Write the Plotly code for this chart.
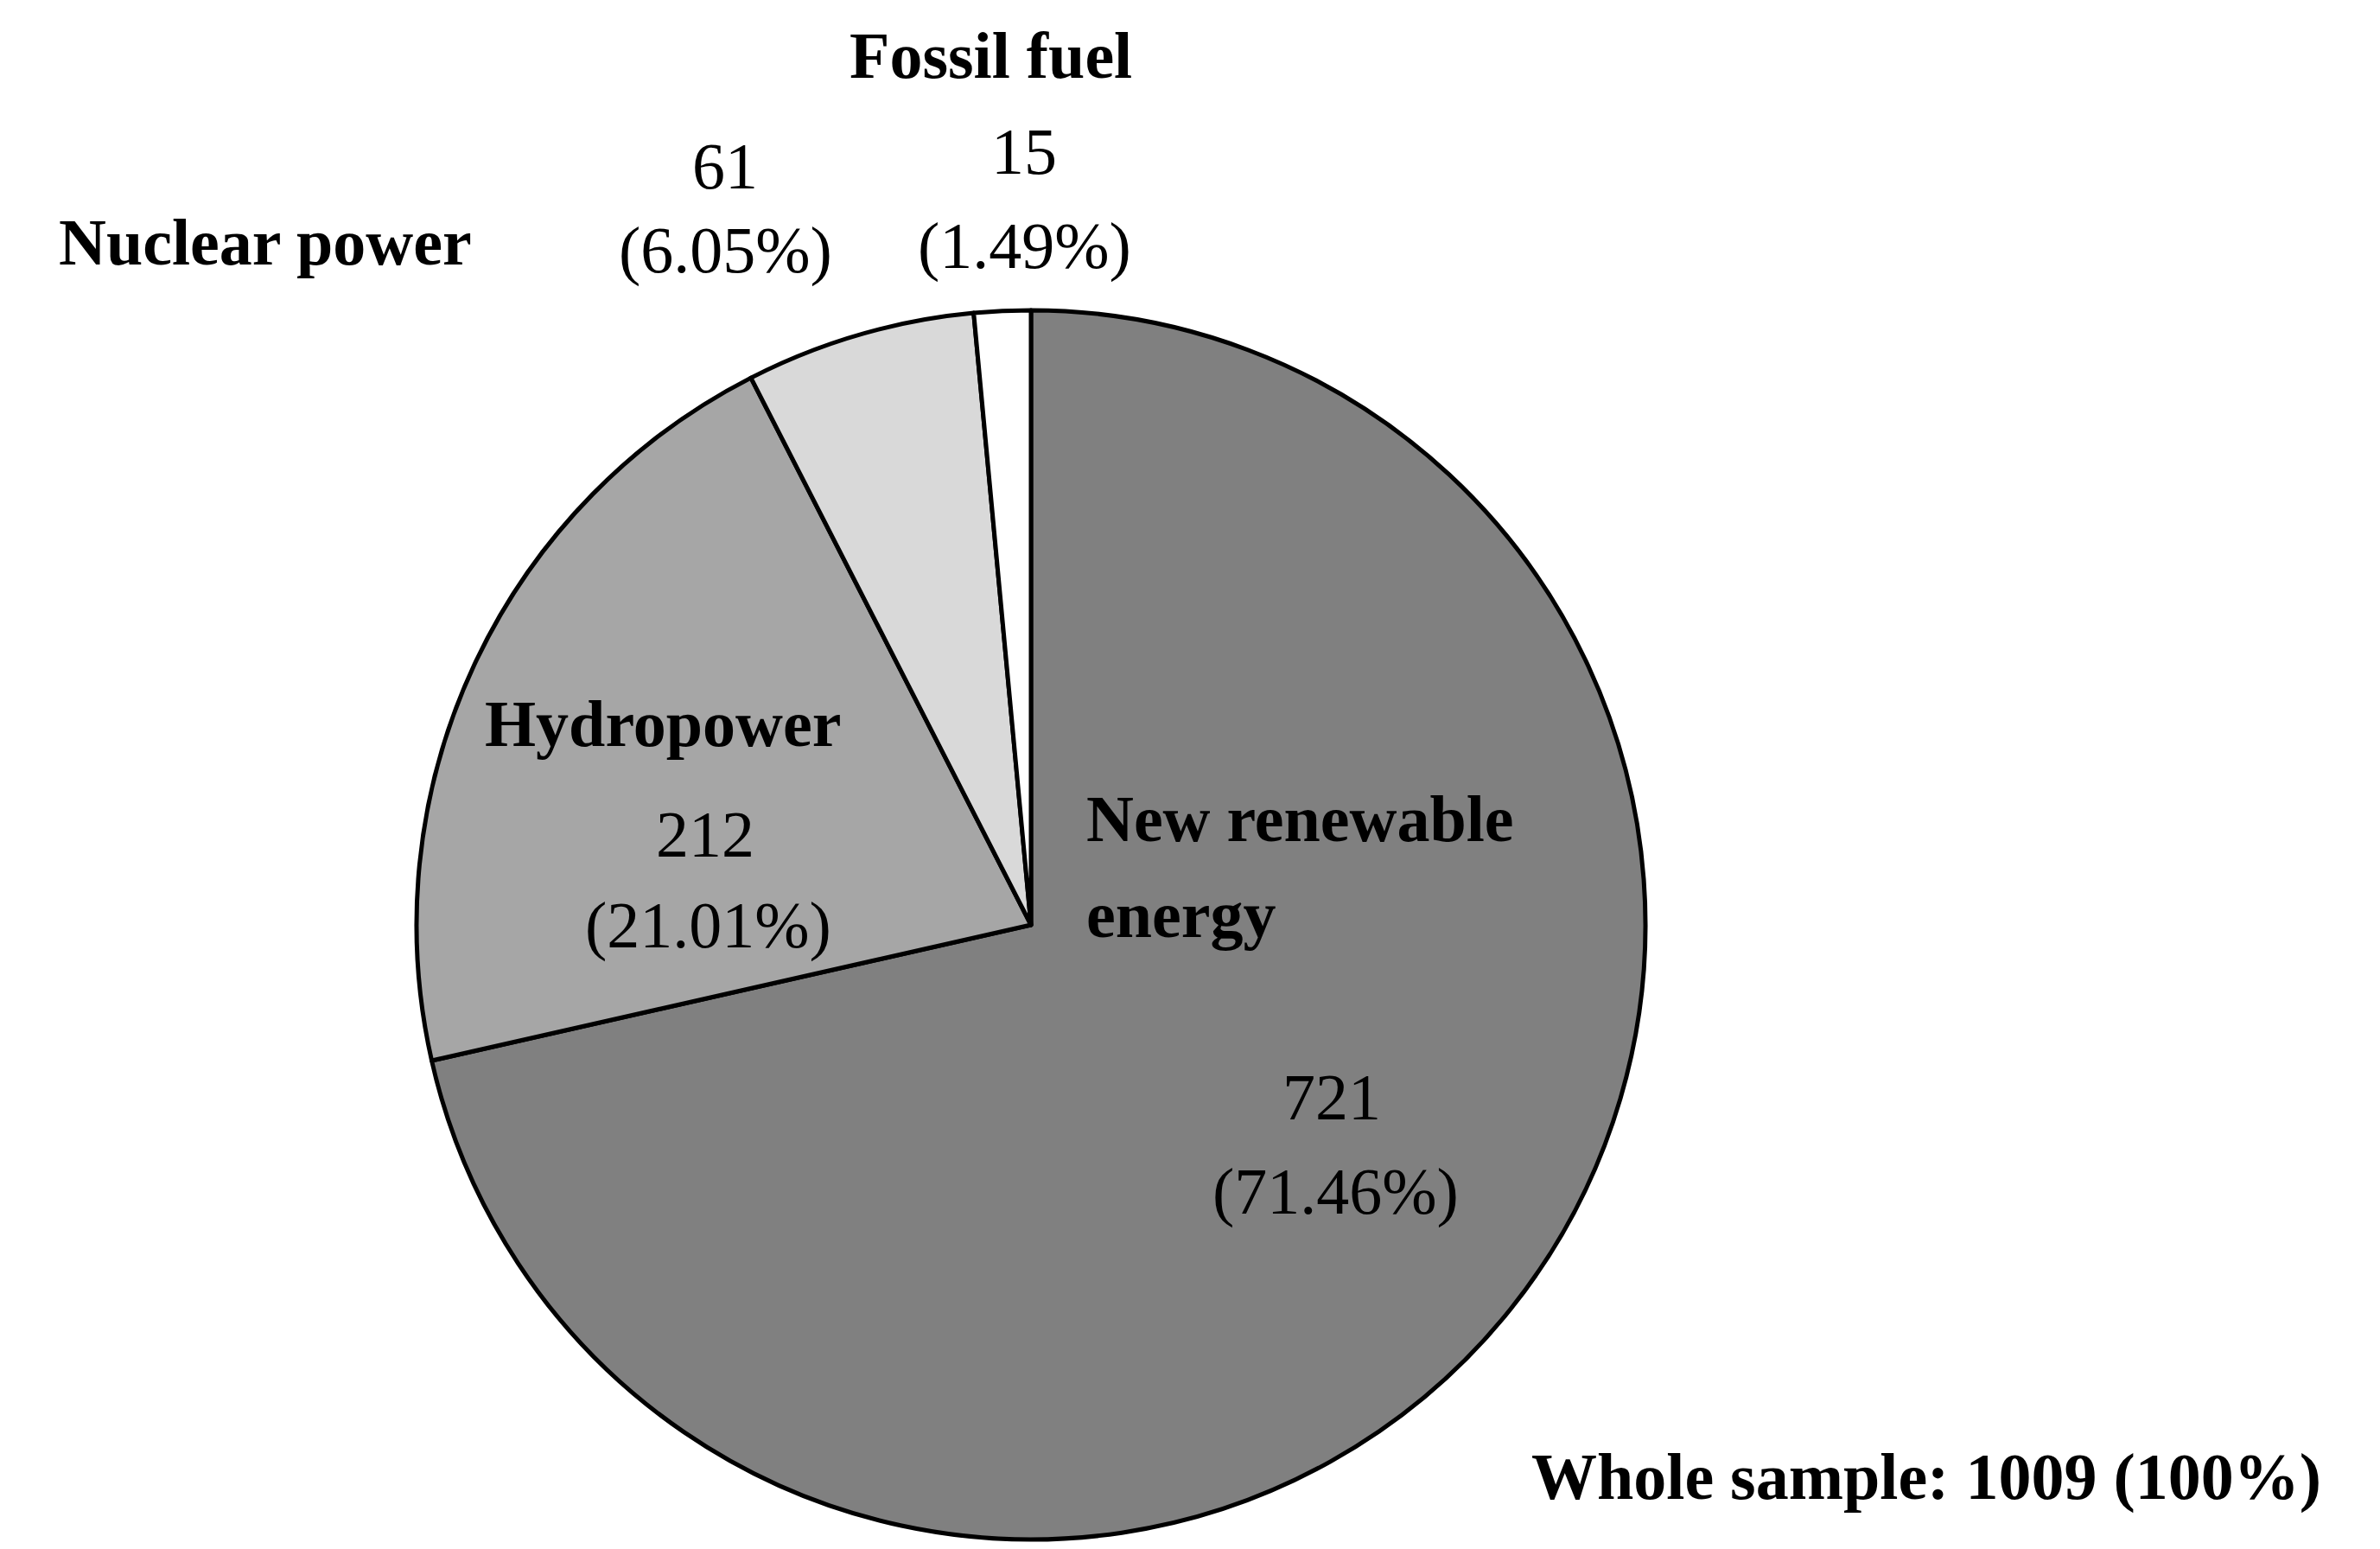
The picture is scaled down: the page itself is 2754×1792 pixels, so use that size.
import plotly.graph_objects as go

labels = ['New renewable energy', 'Hydropower', 'Nuclear power', 'Fossil fuel']
counts = [721, 212, 61, 15]
shares = [71.46, 21.01, 6.05, 1.49]
colors = ['#808080', '#a6a6a6', '#d9d9d9', '#ffffff']
total = 1009

W, H = 2754, 1792
font = 'Liberation Serif'
fs = 76

fig = go.Figure(go.Pie(
    labels=labels,
    values=counts,
    sort=False,
    direction='clockwise',
    rotation=0,
    marker=dict(colors=colors, line=dict(color='black', width=5)),
    textinfo='none',
    hoverinfo='label+value+percent',
    domain=dict(x=[1185 / W - 711 / W, 1185 / W + 711 / W],
                y=[1 - (1062 + 711) / H, 1 - (1062 - 711) / H]),
    showlegend=False,
))


def note(text, x, y, bold=False, xanchor='center'):
    if bold:
        text = '<b>' + text + '</b>'
    fig.add_annotation(text=text, x=x / W, y=1 - y / H, xref='paper', yref='paper',
                       showarrow=False, xanchor=xanchor, yanchor='middle',
                       font=dict(family=font, size=fs, color='black'))


num = [f'{c}' for c in counts]
pct = [f'({s:.2f}%)' for s in shares]

# New renewable energy
note('New renewable', 1247, 939, bold=True, xanchor='left')
note('energy', 1247, 1050, bold=True, xanchor='left')
note(num[0], 1533, 1261)
note(pct[0], 1537, 1370)
# Hydropower
note(labels[1], 759, 829, bold=True)
note(num[1], 808, 957)
note(pct[1], 811, 1062)
# Nuclear power
note(labels[2], 299, 272, bold=True)
note(num[2], 831, 184)
note(pct[2], 831, 281)
# Fossil fuel
note(labels[3], 1138, 56, bold=True)
note(num[3], 1177, 167)
note(pct[3], 1177, 277)
# total
note(f'Whole sample: {total} (100%)', 2221, 1700, bold=True)

fig.update_layout(width=W, height=H, margin=dict(l=0, r=0, t=0, b=0),
                  paper_bgcolor='white', plot_bgcolor='white')
fig.write_html('out.html')
